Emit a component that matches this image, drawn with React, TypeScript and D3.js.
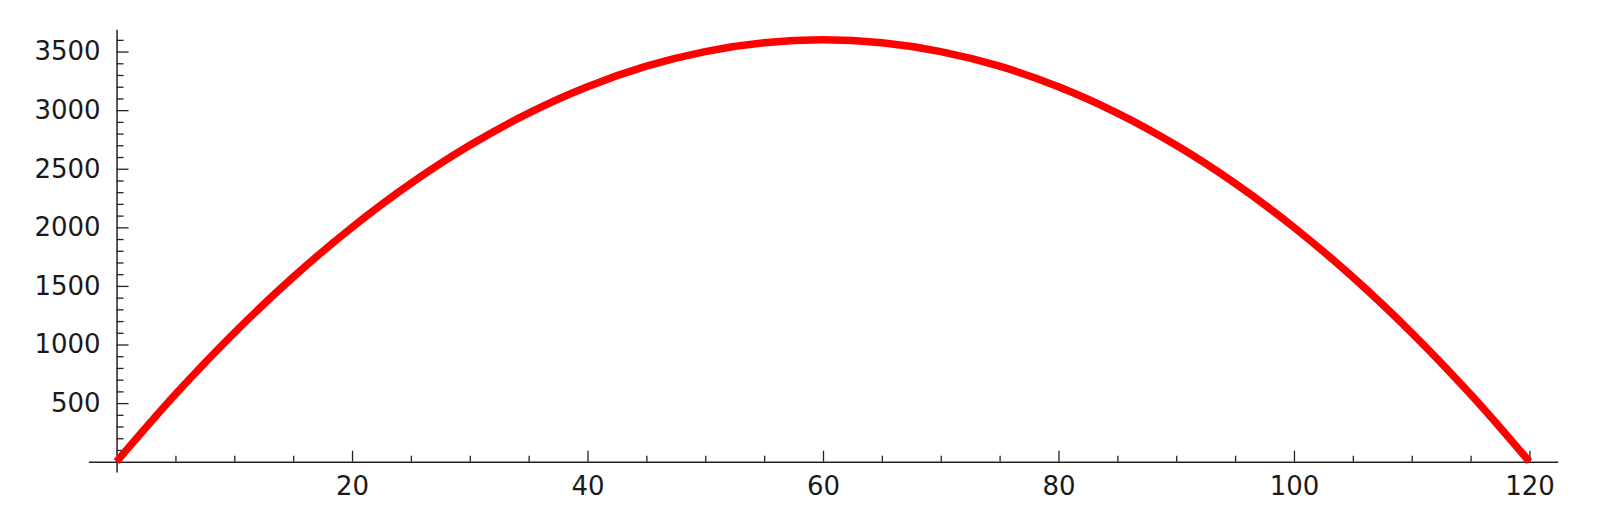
import React, { useEffect, useRef } from "react";
import * as d3 from "d3";

// values
const xValues = [0, 5, 10, 15, 20, 25, 30, 35, 40, 45, 50, 55, 60, 65, 70, 75, 80, 85, 90, 95, 100, 105, 110, 115, 120];
const yValues = [0, 575, 1100, 1575, 2000, 2375, 2700, 2975, 3200, 3375, 3500, 3575, 3600, 3575, 3500, 3375, 3200, 2975, 2700, 2375, 2000, 1575, 1100, 575, 0];

const xMajorTicks = [20, 40, 60, 80, 100, 120];
const xMinorTicks = [5, 10, 15, 25, 30, 35, 45, 50, 55, 65, 70, 75, 85, 90, 95, 105, 110, 115];
const yMajorTicks = [500, 1000, 1500, 2000, 2500, 3000, 3500];
const yMinorTicks = [100, 200, 300, 400, 600, 700, 800, 900, 1100, 1200, 1300, 1400, 1600, 1700, 1800, 1900,
  2100, 2200, 2300, 2400, 2600, 2700, 2800, 2900, 3100, 3200, 3300, 3400, 3600];

const W = 1600;
const H = 518;

const App = () => {
  const svgRef = useRef(null);

  useEffect(() => {
    const svg = d3.select(svgRef.current);
    svg.selectAll("*").remove();

    const x = d3.scaleLinear().domain([-2.4, 122.4]).range([88.3, 1557.7]);
    const y = d3.scaleLinear().domain([-88, 3690]).range([472, 29.3]);

    const axisColor = "#222";
    const font = "'DejaVu Sans', sans-serif";

    // x axis (major + minor)
    const gx = svg.append("g").attr("transform", `translate(0,${y(0)})`);
    gx.append("g")
      .call(d3.axisBottom(x).tickValues(xMinorTicks).tickFormat(() => "").tickSizeInner(-6).tickSizeOuter(0))
      .call((g) => g.select(".domain").remove());
    gx.append("g")
      .call(d3.axisBottom(x).tickValues(xMajorTicks).tickFormat(d3.format("d")).tickSizeInner(-11).tickSizeOuter(0).tickPadding(15));

    // y axis (major + minor)
    const gy = svg.append("g").attr("transform", `translate(${x(0)},0)`);
    gy.append("g")
      .call(d3.axisLeft(y).tickValues(yMinorTicks).tickFormat(() => "").tickSizeInner(-7).tickSizeOuter(0))
      .call((g) => g.select(".domain").remove());
    gy.append("g")
      .call(d3.axisLeft(y).tickValues(yMajorTicks).tickFormat(d3.format("d")).tickSizeInner(-12).tickSizeOuter(0).tickPadding(16));

    svg.selectAll(".domain").attr("stroke", axisColor).attr("stroke-width", 1.5);
    svg.selectAll(".tick line").attr("stroke", axisColor).attr("stroke-width", 1.3);
    svg.selectAll(".tick text")
      .attr("fill", "#1a1a1a")
      .attr("font-family", font)
      .attr("font-size", 26);

    // curve
    const pts = xValues.map((v, i) => [v, yValues[i]]);
    const line = d3
      .line()
      .x((d) => x(d[0]))
      .y((d) => y(d[1]))
      .curve(d3.curveCatmullRom.alpha(0.5));

    svg.append("path")
      .datum(pts)
      .attr("d", line)
      .attr("fill", "none")
      .attr("stroke", "#ff0000")
      .attr("stroke-width", 7.5)
      .attr("stroke-linejoin", "round");
  });

  return (
    <svg
      ref={svgRef}
      width={W}
      height={H}
      style={{ position: "absolute", left: 0, top: 0, background: "#fff" }}
    />
  );
};

export default App;
